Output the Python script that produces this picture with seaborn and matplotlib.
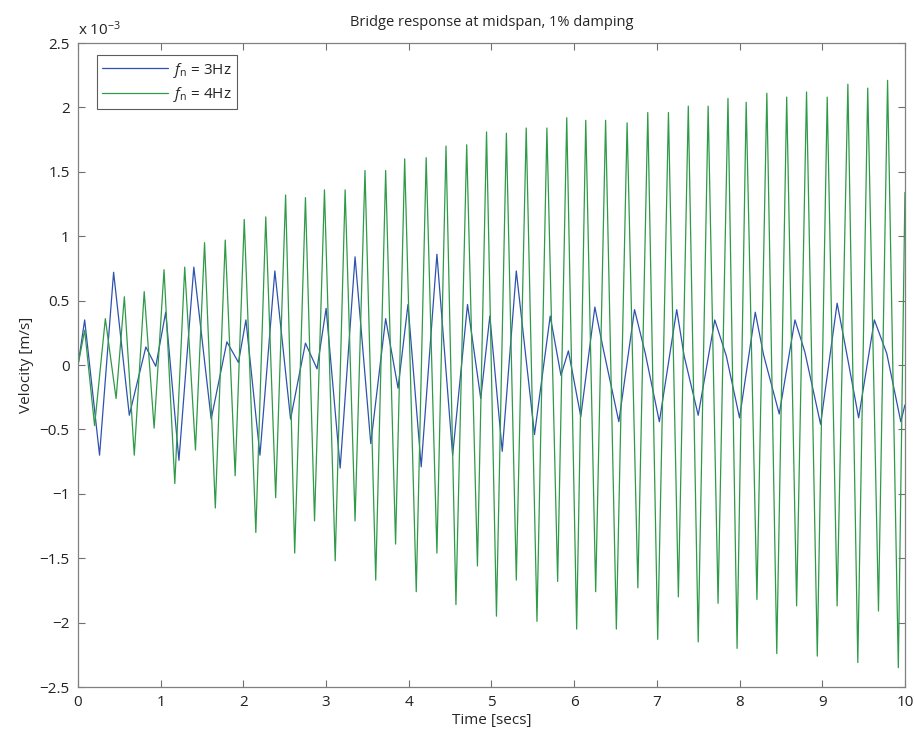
import pandas as pd
import seaborn as sns
import matplotlib.pyplot as plt

# peaks / troughs (velocity in units of 1e-3 m/s)
t_3hz = [0.00, 0.08, 0.26, 0.43, 0.62, 0.82, 0.94, 1.06, 1.22, 1.40, 1.61, 1.80, 1.94, 2.03,
         2.20, 2.38, 2.57, 2.75, 2.89, 3.00, 3.17, 3.35, 3.54, 3.72, 3.87, 3.99, 4.15, 4.34,
         4.53, 4.71, 4.87, 4.98, 5.13, 5.30, 5.52, 5.71, 5.84, 5.93, 6.08, 6.25, 6.35, 6.54,
         6.73, 6.86, 7.03, 7.24, 7.33, 7.50, 7.70, 7.84, 8.00, 8.19, 8.29, 8.48, 8.67, 8.79,
         8.98, 9.18, 9.29, 9.44, 9.63, 9.78, 9.95, 10.0]
v_3hz = [0.00, 0.35, -0.70, 0.72, -0.39, 0.14, -0.01, 0.41, -0.74, 0.76, -0.42, 0.18, 0.02, 0.35,
         -0.70, 0.73, -0.42, 0.17, -0.03, 0.44, -0.80, 0.84, -0.61, 0.36, -0.18, 0.47, -0.79, 0.86,
         -0.70, 0.47, -0.26, 0.38, -0.67, 0.73, -0.54, 0.38, -0.08, 0.11, -0.40, 0.45, 0.13, -0.44,
         0.43, 0.09, -0.44, 0.43, 0.07, -0.39, 0.35, 0.07, -0.41, 0.41, 0.08, -0.38, 0.35, 0.10,
         -0.46, 0.48, 0.11, -0.41, 0.35, 0.09, -0.44, -0.31]

t_4hz = [0.00, 0.08, 0.20, 0.33, 0.46, 0.56, 0.68, 0.80, 0.92, 1.04, 1.17, 1.29, 1.42, 1.53,
         1.66, 1.78, 1.90, 2.01, 2.15, 2.27, 2.39, 2.51, 2.62, 2.75, 2.86, 2.98, 3.11, 3.23,
         3.35, 3.47, 3.60, 3.72, 3.84, 3.95, 4.09, 4.21, 4.34, 4.45, 4.57, 4.70, 4.83, 4.94,
         5.06, 5.18, 5.30, 5.42, 5.55, 5.67, 5.80, 5.91, 6.03, 6.14, 6.26, 6.38, 6.51, 6.64,
         6.77, 6.89, 7.01, 7.14, 7.26, 7.38, 7.50, 7.62, 7.74, 7.86, 7.97, 8.08, 8.21, 8.33,
         8.45, 8.57, 8.69, 8.81, 8.94, 9.06, 9.18, 9.31, 9.43, 9.55, 9.68, 9.79, 9.92, 10.0]
v_4hz = [0.00, 0.27, -0.47, 0.36, -0.26, 0.53, -0.70, 0.57, -0.49, 0.74, -0.92, 0.76, -0.66, 0.95,
         -1.11, 0.97, -0.86, 1.13, -1.30, 1.15, -1.03, 1.32, -1.46, 1.30, -1.21, 1.36, -1.52, 1.36,
         -1.21, 1.51, -1.67, 1.51, -1.39, 1.60, -1.76, 1.61, -1.46, 1.70, -1.86, 1.71, -1.56, 1.81,
         -1.95, 1.80, -1.67, 1.84, -1.99, 1.84, -1.68, 1.92, -2.05, 1.90, -1.76, 1.90, -2.05, 1.88,
         -1.73, 1.96, -2.13, 1.96, -1.80, 2.01, -2.15, 2.01, -1.85, 2.07, -2.20, 2.04, -1.82, 2.11,
         -2.24, 2.08, -1.87, 2.12, -2.26, 2.08, -1.87, 2.18, -2.31, 2.15, -1.91, 2.21, -2.35, 1.34]

labels = [r"$f_{\mathrm{n}}$ = 3Hz", r"$f_{\mathrm{n}}$ = 4Hz"]
colors = ["#2f52b0", "#2f9a48"]
x_ticks = list(range(0, 11))
y_ticks = [-2.5, -2, -1.5, -1, -0.5, 0, 0.5, 1, 1.5, 2, 2.5]
y_ticklabels = ["\u22122.5", "\u22122", "\u22121.5", "\u22121", "\u22120.5", "0",
                "0.5", "1", "1.5", "2", "2.5"]

df = pd.concat([
    pd.DataFrame({"t": t_3hz, "v": v_3hz, "series": labels[0]}),
    pd.DataFrame({"t": t_4hz, "v": v_4hz, "series": labels[1]}),
])

sns.set_style("ticks")
plt.rcParams["font.family"] = ["Open Sans", "DejaVu Sans"]
plt.rcParams["mathtext.fontset"] = "custom"
plt.rcParams["mathtext.it"] = "Open Sans:italic"
plt.rcParams["mathtext.rm"] = "Open Sans"

fig = plt.figure(figsize=(9.15, 7.34), dpi=100)
ax = fig.add_axes([0.0853, 0.064, 0.9037, 0.8774])

sns.lineplot(data=df, x="t", y="v", hue="series", palette=colors,
             estimator=None, sort=False, linewidth=0.9, ax=ax)

ax.set_xlim(0, 10)
ax.set_ylim(-2.5, 2.5)
ax.set_xticks(x_ticks)
ax.set_yticks(y_ticks)
ax.set_yticklabels(y_ticklabels)
ax.tick_params(direction="in", length=5, width=0.8, color="#707070",
               labelsize=11, labelcolor="#222222", top=True, right=True, pad=6)
for s in ax.spines.values():
    s.set_visible(True)
    s.set_color("#808080")
    s.set_linewidth(0.9)

ax.set_xlabel("Time [secs]", fontsize=11, labelpad=2)
ax.set_ylabel("Velocity [m/s]", fontsize=11, labelpad=4)
ax.set_title("Bridge response at midspan, 1% damping", fontsize=10.5, pad=12)
ax.text(0.0, 1.006, r"x 10$^{\mathrm{-3}}$", transform=ax.transAxes,
        fontsize=11, ha="left", va="bottom", color="#222222")

leg = ax.legend(loc="upper left", bbox_to_anchor=(0.023, 0.981), borderaxespad=0,
                fancybox=False, edgecolor="#333333", fontsize=11, handlelength=4.3,
                handletextpad=0.3, borderpad=0.35, labelspacing=0.35, title=None)
leg.get_frame().set_linewidth(0.8)

fig.savefig("out.png", dpi=100)
